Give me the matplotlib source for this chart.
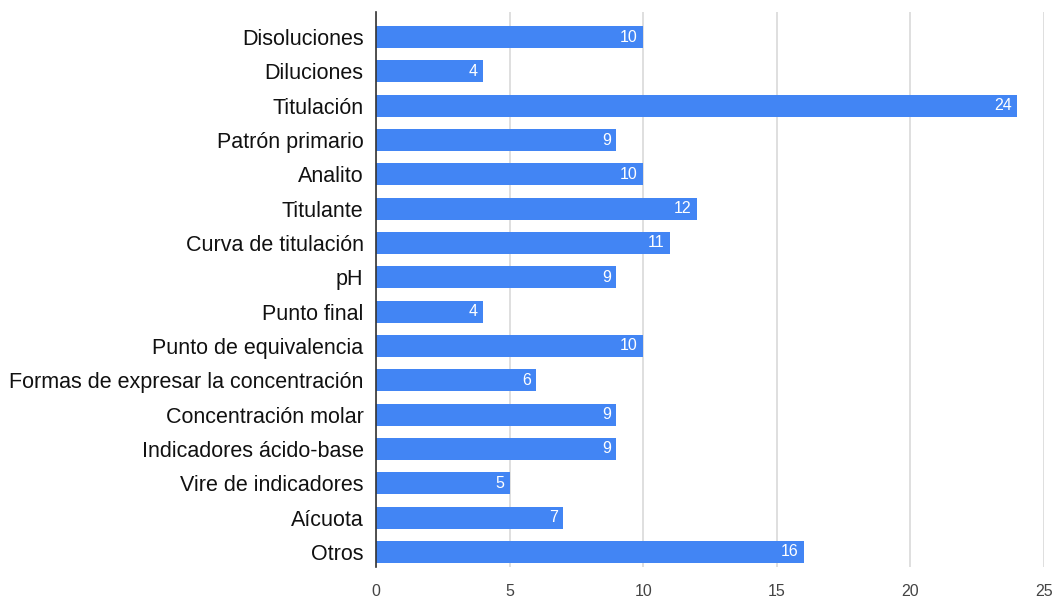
import matplotlib
matplotlib.use("Agg")
import matplotlib.pyplot as plt

categories = [
    "Disoluciones", "Diluciones", "Titulación", "Patrón primario", "Analito",
    "Titulante", "Curva de titulación", "pH", "Punto final",
    "Punto de equivalencia", "Formas de expresar la concentración",
    "Concentración molar", "Indicadores ácido-base", "Vire de indicadores",
    "Aícuota", "Otros",
]
values = [10, 4, 24, 9, 10, 12, 11, 9, 4, 10, 6, 9, 9, 5, 7, 16]
x_ticks = [0, 5, 10, 15, 20, 25]

plt.rcParams["font.family"] = ["Liberation Sans", "DejaVu Sans"]

fig = plt.figure(figsize=(10.57, 5.98), dpi=100)
ax = fig.add_axes([376 / 1057, 1 - 567 / 598, (1044 - 376) / 1057, (567 - 12) / 598])

bar_color = "#4285F4"
pos = list(range(len(categories)))
ax.barh(pos, values, height=0.64, color=bar_color, zorder=3)

for y, v in zip(pos, values):
    ax.text(v - 0.2, y, str(v), ha="right", va="center", color="white",
            fontsize=11.5, zorder=4)

ax.set_ylim(15.44, -0.73)
ax.set_xlim(0, 25)
ax.set_xticks(x_ticks)
ax.set_xticklabels([str(t) for t in x_ticks], fontsize=11.5, color="#444444")
ax.set_yticks(pos)
ax.set_yticklabels(categories, fontsize=15.5, color="#111111")
ax.tick_params(axis="both", length=0)
ax.tick_params(axis="x", pad=12)
ax.tick_params(axis="y", pad=9)

ax.grid(axis="x", color="#d9d9d9", linewidth=1.2, zorder=0)
for side in ("top", "right", "bottom"):
    ax.spines[side].set_visible(False)
ax.spines["left"].set_color("#333333")
ax.spines["left"].set_linewidth(1.2)
ax.spines["left"].set_zorder(5)

fig.savefig("out.png", dpi=100, facecolor="white")
